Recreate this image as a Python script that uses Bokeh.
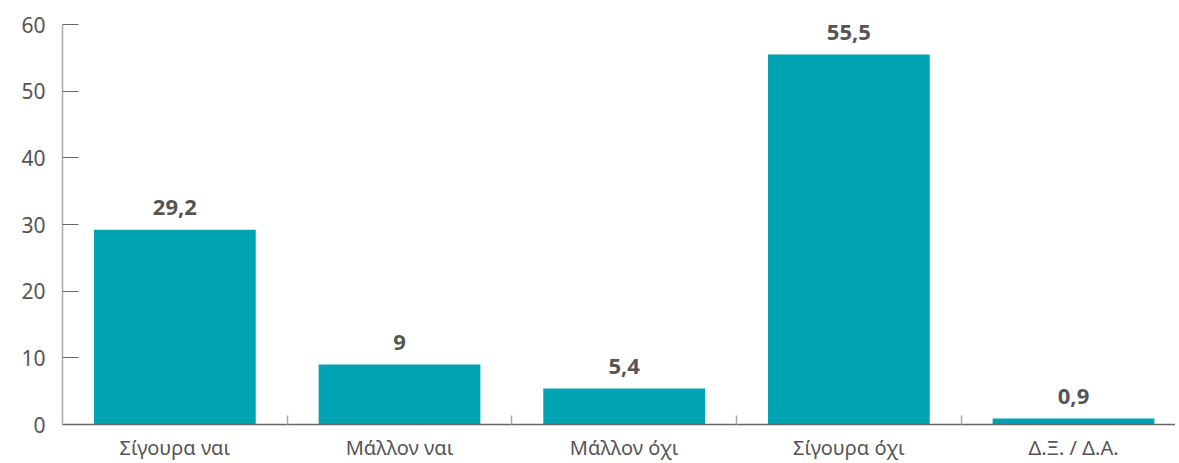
from bokeh.plotting import figure
from bokeh.models import ColumnDataSource, Range1d, FixedTicker, LabelSet
from bokeh.core.properties import value
from bokeh.embed import file_html
from bokeh.resources import INLINE

categories = ["Σίγουρα ναι", "Μάλλον ναι", "Μάλλον όχι", "Σίγουρα όχι", "Δ.Ξ. / Δ.Α."]
values = [29.2, 9, 5.4, 55.5, 0.9]
value_labels = ["29,2", "9", "5,4", "55,5", "0,9"]
y_ticks = [0, 10, 20, 30, 40, 50, 60]

xs = list(range(len(categories)))
src = ColumnDataSource(dict(x=xs, top=values, lab=value_labels))

FONT = "Noto Sans"
TEAL = "#00A3B1"

p = figure(width=1175, height=463, output_backend="svg", toolbar_location=None,
           x_range=Range1d(-0.5, 4.454), y_range=Range1d(0, 60),
           min_border_left=62, min_border_right=0, min_border_top=24, min_border_bottom=39)
p.outline_line_color = None
p.grid.grid_line_color = None
p.background_fill_color = "white"

p.vbar(x="x", top="top", width=0.72, source=src, color=TEAL, line_color=None)

labels = LabelSet(x="x", y="top", text="lab", source=src, text_align="center",
                  text_baseline="alphabetic", y_offset=15, text_font=value("Open Sans"),
                  text_font_style="bold", text_font_size=value("22px"), text_color="#555555")
p.add_layout(labels)

# x axis
p.xaxis.ticker = FixedTicker(ticks=xs, minor_ticks=[i + 0.5 for i in xs])
p.xaxis.major_label_overrides = {i: c for i, c in zip(xs, categories)}
p.xaxis.major_tick_line_color = None
p.xaxis.minor_tick_in = 9
p.xaxis.minor_tick_out = 0
p.xaxis.minor_tick_line_color = "#aaaaaa"
p.xaxis.minor_tick_line_width = 1.5
p.xaxis.axis_line_color = "#666666"
p.xaxis.axis_line_width = 1.5
p.xaxis.major_label_text_font = FONT
p.xaxis.major_label_text_font_size = "20px"
p.xaxis.major_label_text_color = "#555555"
p.xaxis.major_label_standoff = 3
p.xaxis.axis_label_standoff = 0

# y axis
p.yaxis.ticker = FixedTicker(ticks=y_ticks)
p.yaxis.major_tick_in = 16
p.yaxis.major_tick_out = 0
p.yaxis.minor_tick_line_color = None
p.yaxis.major_tick_line_color = "#666666"
p.yaxis.axis_line_color = "#aaaaaa"
p.yaxis.axis_line_width = 1.5
p.yaxis.major_label_text_font = FONT
p.yaxis.major_label_text_font_size = "21px"
p.yaxis.major_label_text_color = "#555555"
p.yaxis.major_label_standoff = 17

open("out.html", "w").write(file_html(p, INLINE))
